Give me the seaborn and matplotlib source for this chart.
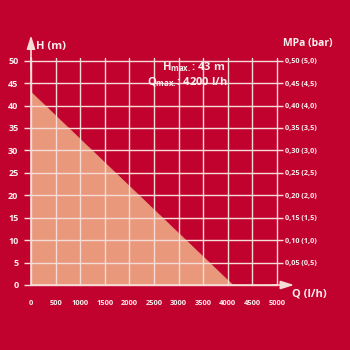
import matplotlib
matplotlib.use("Agg")
import matplotlib.pyplot as plt
import seaborn as sns
import pandas as pd

# Data
flow_lph = [0, 4100]
head_m = [43, 0]
x_ticks = [0, 500, 1000, 1500, 2000, 2500, 3000, 3500, 4000, 4500, 5000]
y_ticks = [0, 5, 10, 15, 20, 25, 30, 35, 40, 45, 50]
right_ticks = [5, 10, 15, 20, 25, 30, 35, 40, 45, 50]
right_labels = ["0,05 (0,5)", "0,10 (1,0)", "0,15 (1,5)", "0,20 (2,0)", "0,25 (2,5)",
                "0,30 (3,0)", "0,35 (3,5)", "0,40 (4,0)", "0,45 (4,5)", "0,50 (5,0)"]

BG = "#c1022f"
FILL = "#ea987c"
GRID = "#f6dcd6"
TXT = "#fbeeee"

sns.set_style("white")
plt.rcParams["font.family"] = ["Open Sans", "DejaVu Sans"]
plt.rcParams["mathtext.fontset"] = "custom"
plt.rcParams["mathtext.rm"] = "Open Sans:bold"
plt.rcParams["mathtext.bf"] = "Open Sans:bold"
plt.rcParams["mathtext.it"] = "Open Sans:bold"

df = pd.DataFrame({"Q": flow_lph, "H": head_m})

fig = plt.figure(figsize=(3.5, 3.5), dpi=100, facecolor=BG)
ax = fig.add_axes([31/350, 65/350, 246/350, 227/350])
ax.set_facecolor(BG)

sns.lineplot(data=df, x="Q", y="H", ax=ax, color=FILL, linewidth=0.5)
ax.fill_between(df["Q"], df["H"], 0, color=FILL, linewidth=0, zorder=1)

ax.set_xlim(0, 5000)
ax.set_ylim(0, 50.6)
ax.set_xticks(x_ticks)
ax.set_yticks(y_ticks)
ax.set_xlabel("")
ax.set_ylabel("")
ax.set_axisbelow(False)
ax.grid(True, color=GRID, linewidth=1.0, zorder=2.5, clip_on=False)

for s in ["top", "right"]:
    ax.spines[s].set_visible(False)
for s in ["left", "bottom"]:
    ax.spines[s].set_color(GRID)
    ax.spines[s].set_linewidth(1.2)
    ax.spines[s].set_zorder(3)

ax.tick_params(axis="x", direction="out", length=7, width=1.0, color=GRID,
               labelsize=5.4, labelcolor=TXT, pad=4)
ax.tick_params(axis="y", direction="out", length=5, width=1.0, color=GRID,
               labelsize=6.5, labelcolor=TXT, pad=4)
for lab in ax.get_xticklabels() + ax.get_yticklabels():
    lab.set_fontweight("bold")

# right axis labels
ax2 = ax.twinx()
ax2.set_ylim(ax.get_ylim())
ax2.set_yticks(right_ticks)
ax2.set_yticklabels(right_labels)
ax2.tick_params(axis="y", direction="out", length=4, width=1.0, color=GRID,
                labelsize=5.2, labelcolor=TXT, pad=2)
for lab in ax2.get_yticklabels():
    lab.set_fontweight("bold")
for s in ax2.spines.values():
    s.set_visible(False)
ax2.patch.set_visible(False)

# axis arrows
ax.annotate("", xy=(0, 1.1), xycoords="axes fraction", xytext=(0, 0.95),
            arrowprops=dict(arrowstyle="-|>,head_length=0.8,head_width=0.25",
                            color=GRID, lw=1.2, shrinkA=0, shrinkB=0))
ax.annotate("", xy=(1.07, 0), xycoords="axes fraction", xytext=(0.98, 0),
            arrowprops=dict(arrowstyle="-|>,head_length=0.8,head_width=0.25",
                            color=GRID, lw=1.2, shrinkA=0, shrinkB=0))

ax.text(0.02, 1.05, "H (m)", transform=ax.transAxes, fontsize=8, fontweight="bold",
        color=TXT, ha="left", va="center")
ax.text(1.025, 1.065, "MPa (bar)", transform=ax.transAxes, fontsize=7.5, fontweight="bold",
        color=TXT, ha="left", va="center")
ax.text(1.06, -0.04, "Q (l/h)", transform=ax.transAxes, fontsize=8, fontweight="bold",
        color=TXT, ha="left", va="center")

ax.text(0.79, 0.96, r"H$_{\mathrm{max.}}$: 43 m", transform=ax.transAxes, fontsize=8,
        fontweight="bold", color=TXT, ha="right", va="center")
ax.text(0.80, 0.895, r"Q$_{\mathrm{max.}}$: 4200 l/h", transform=ax.transAxes, fontsize=8,
        fontweight="bold", color=TXT, ha="right", va="center")

fig.savefig("out.png", dpi=100, facecolor=BG)
